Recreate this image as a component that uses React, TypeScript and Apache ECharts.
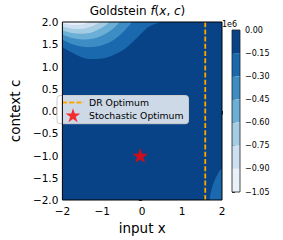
import { useEffect, useRef } from 'react';
import * as echarts from 'echarts';

// Contour levels (units of 1e6) and their fill colours (Blues), top band first
const levels = [0, -0.15, -0.3, -0.45, -0.6, -0.75, -0.9, -1.05];
const bandColors = ['#084387', '#1a68ae', '#3d8dc4', '#6baed6', '#a4cce3', '#cde0f1', '#e9f2fa'];

// Contour lines, [x, c], running from the left edge to the top edge
const contour015 = [[-2, 1.43], [-1.7, 1.285], [-1.43, 1.18], [-1.12, 1.17], [-0.89, 1.2], [-0.6, 1.31], [-0.4, 1.422], [-0.18, 1.6], [0.1, 1.85], [0.3, 1.95], [0.5, 2]];
const contour030 = [[-2, 1.6], [-1.75, 1.5], [-1.5, 1.445], [-1.25, 1.437], [-1, 1.48], [-0.75, 1.58], [-0.5, 1.755], [-0.25, 2]];
const contour045 = [[-2, 1.72], [-1.75, 1.64], [-1.5, 1.607], [-1.25, 1.622], [-1, 1.694], [-0.75, 1.835], [-0.56, 2]];
const contour060 = [[-2, 1.81], [-1.75, 1.754], [-1.5, 1.738], [-1.25, 1.772], [-1, 1.875], [-0.82, 2]];
const contour075 = [[-2, 1.9], [-1.75, 1.851], [-1.5, 1.851], [-1.25, 1.907], [-1.05, 2]];
const contour090 = [[-2, 1.974], [-1.75, 1.94], [-1.5, 1.952], [-1.32, 2]];
// Bottom-right contour at -0.15, from the bottom edge to the right edge
const contour015BottomRight = [[1.69, -2], [1.716, -1.843], [1.787, -1.618], [1.905, -1.393], [2, -1.28]];

const drOptimumX = 1.58;
const stochasticOptimum = [-0.05, -1.0];

const FONT = 'DejaVu Sans';
const fmtMinus = (s: string) => s.replace('-', '\u2212');

const starPath =
  'path://M50,0 L61.2,34.59 L97.55,34.55 L68.12,55.89 L79.39,90.45 L50,69.05 L20.61,90.45 L31.88,55.89 L2.45,34.55 L38.8,34.59 Z';

function smoothPath(pts: number[][]) {
  const n = pts.length;
  let d = `M${pts[0][0]},${pts[0][1]}`;
  for (let i = 0; i < n - 1; i++) {
    const p0 = pts[Math.max(i - 1, 0)];
    const p1 = pts[i];
    const p2 = pts[i + 1];
    const p3 = pts[Math.min(i + 2, n - 1)];
    const c1x = p1[0] + (p2[0] - p0[0]) / 6;
    const c1y = p1[1] + (p2[1] - p0[1]) / 6;
    const c2x = p2[0] - (p3[0] - p1[0]) / 6;
    const c2y = p2[1] - (p3[1] - p1[1]) / 6;
    d += ` C${c1x},${c1y} ${c2x},${c2y} ${p2[0]},${p2[1]}`;
  }
  return d;
}

export default function App() {
  const ref = useRef<HTMLDivElement>(null);
  useEffect(() => {
    if (!ref.current) return;
    const chart = echarts.init(ref.current, null, { renderer: 'svg' });
    const topLeftLines = [contour015, contour030, contour045, contour060, contour075, contour090];
    const regionCount = 1 + topLeftLines.length + 1;

    const option: any = {
      animation: false,
      title: {
        text: 'Goldstein {i|f}({i|x}, {i|c})',
        left: 137.5,
        top: 5,
        padding: 0,
        textAlign: 'center',
        textStyle: {
          fontSize: 12,
          fontWeight: 'normal',
          color: '#000',
          fontFamily: FONT,
          rich: { i: { fontStyle: 'italic', fontSize: 12, fontFamily: FONT, color: '#000' } },
        },
      },
      legend: {
        left: 57,
        top: 95.5,
        orient: 'vertical',
        backgroundColor: 'rgba(255,255,255,0.8)',
        borderColor: '#cccccc',
        borderWidth: 1,
        borderRadius: 3,
        padding: [1.5, 5, 1.5, 4],
        itemGap: 0,
        itemWidth: 22,
        itemHeight: 14,
        textStyle: { fontSize: 9.3, fontFamily: FONT, color: '#000' },
        data: [
          { name: 'DR Optimum', itemStyle: { opacity: 0, color: 'rgba(0,0,0,0)', borderWidth: 0 } },
          { name: 'Stochastic Optimum' },
        ],
      },
      grid: [
        { left: 53, top: 22, width: 169, height: 178, show: true, borderColor: '#000', borderWidth: 1, backgroundColor: 'transparent', z: 10 },
        { left: 232, top: 30, width: 8, height: 162, show: true, borderColor: '#222', borderWidth: 0.8, backgroundColor: 'transparent', z: 10 },
      ],
      xAxis: [
        {
          type: 'value', gridIndex: 0, min: -2, max: 2, interval: 1,
          axisLine: { show: false },
          axisTick: { show: true, length: 3.5, lineStyle: { color: '#000', width: 0.8 } },
          splitLine: { show: false },
          axisLabel: { fontSize: 10.5, fontFamily: FONT, color: '#000', margin: 5, formatter: (v: number) => fmtMinus(String(v)) },
          name: 'input x', nameLocation: 'middle', nameGap: 19,
          nameTextStyle: { fontSize: 13.5, fontFamily: FONT, color: '#000' },
        },
        { type: 'value', gridIndex: 1, min: 0, max: 1, show: false },
      ],
      yAxis: [
        {
          type: 'value', gridIndex: 0, min: -2, max: 2, interval: 0.5,
          axisLine: { show: false },
          axisTick: { show: true, length: 3.5, lineStyle: { color: '#000', width: 0.8 } },
          splitLine: { show: false },
          axisLabel: { fontSize: 10.5, fontFamily: FONT, color: '#000', margin: 4, formatter: (v: number) => fmtMinus(v.toFixed(1)) },
          name: 'context c', nameLocation: 'middle', nameGap: 33,
          nameTextStyle: { fontSize: 13.5, fontFamily: FONT, color: '#000' },
        },
        {
          type: 'value', gridIndex: 1, min: -1.05, max: 0, interval: 0.15, position: 'right',
          axisLine: { show: false },
          axisTick: { show: true, length: 3, lineStyle: { color: '#000', width: 0.8 } },
          splitLine: { show: false },
          axisLabel: {
            fontSize: 8, fontFamily: FONT, color: '#000', margin: 5,
            formatter: (v: number) => { const s = v.toFixed(2); return s === '-0.00' ? '0.00' : fmtMinus(s); },
          },
        },
      ],
      graphic: [
        { type: 'text', left: 222, top: 20, style: { text: '1e6', fontSize: 8, fontFamily: FONT, fill: '#000' } },
      ],
      series: [
        {
          type: 'custom',
          name: 'contours',
          xAxisIndex: 0,
          yAxisIndex: 0,
          z: 1,
          silent: true,
          data: Array.from({ length: regionCount }, (_, i) => [i]),
          renderItem: (params: any, api: any) => {
            const i = params.dataIndex;
            if (i === 0) {
              const pts = [[-2, -2], [2, -2], [2, 2], [-2, 2]].map((p) => api.coord(p));
              return { type: 'polygon', shape: { points: pts }, style: { fill: bandColors[0] } };
            }
            let line: number[][];
            let corner: number[];
            let color: string;
            if (i <= topLeftLines.length) {
              line = topLeftLines[i - 1];
              corner = [-2, 2];
              color = bandColors[i];
            } else {
              line = contour015BottomRight;
              corner = [2, -2];
              color = bandColors[1];
            }
            const pts = line.map((p) => api.coord(p));
            const c = api.coord(corner);
            const d = smoothPath(pts) + ` L${c[0]},${c[1]} Z`;
            return { type: 'path', shape: { pathData: d }, style: { fill: color } };
          },
        },
        {
          type: 'line',
          name: 'DR Optimum',
          xAxisIndex: 0,
          yAxisIndex: 0,
          z: 3,
          symbol: 'none',
          data: [[drOptimumX, -2], [drOptimumX, 2]],
          lineStyle: { color: '#ffa500', width: 1.8, type: [5, 2.2] },
          itemStyle: { color: '#ffa500' },
        },
        {
          type: 'scatter',
          name: 'Stochastic Optimum',
          xAxisIndex: 0,
          yAxisIndex: 0,
          z: 4,
          symbol: starPath,
          symbolKeepAspect: true,
          symbolSize: 16,
          data: [stochasticOptimum],
          itemStyle: { color: '#ff0000' },
        },
        {
          type: 'custom',
          name: 'colorbar',
          xAxisIndex: 1,
          yAxisIndex: 1,
          silent: true,
          data: bandColors.map((_, i) => [i]),
          renderItem: (params: any, api: any) => {
            const i = params.dataIndex;
            const tl = api.coord([0, levels[i]]);
            const br = api.coord([1, levels[i + 1]]);
            return {
              type: 'rect',
              shape: { x: tl[0], y: tl[1], width: br[0] - tl[0], height: br[1] - tl[1] },
              style: { fill: bandColors[i] },
            };
          },
        },
      ],
    };
    chart.setOption(option);
    return () => chart.dispose();
  }, []);
  return <div ref={ref} style={{ position: 'absolute', left: 0, top: 0, width: 283, height: 240 }} />;
}
